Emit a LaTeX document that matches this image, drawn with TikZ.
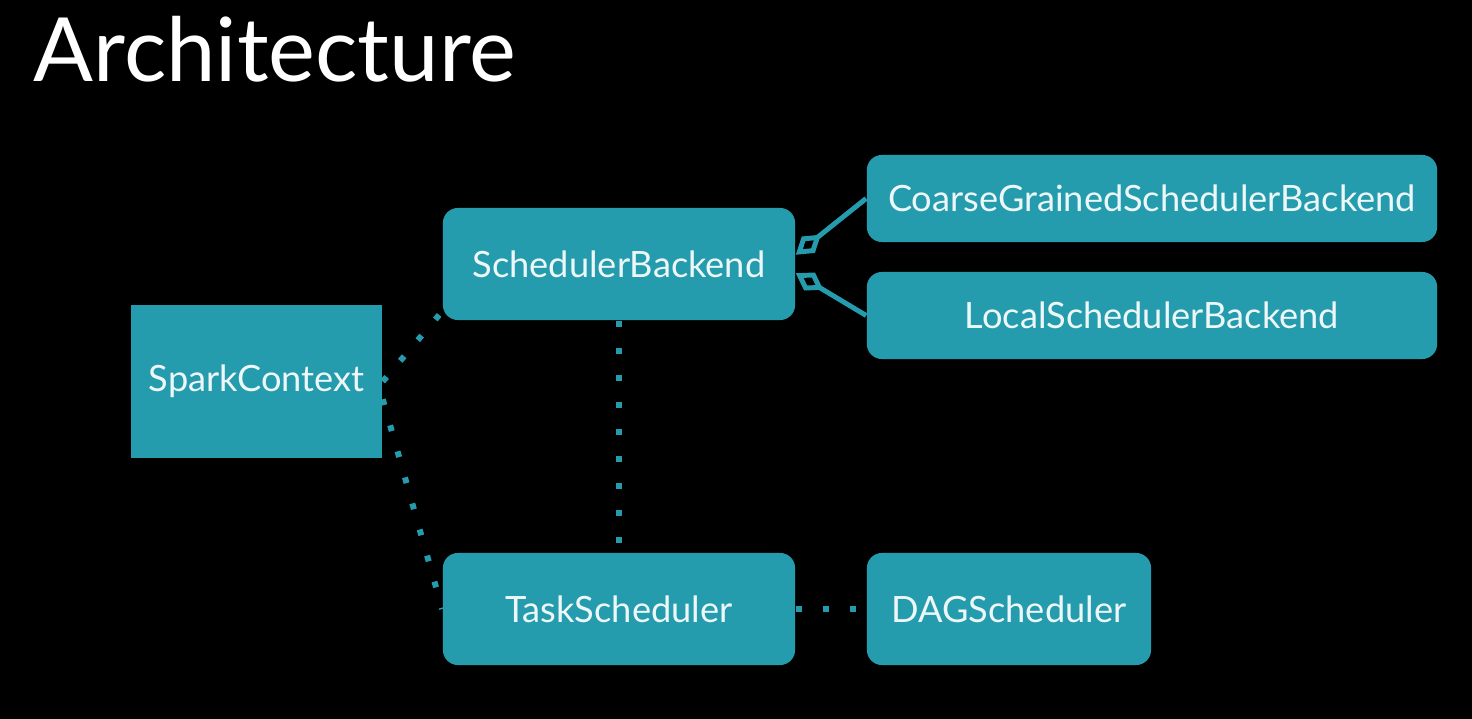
\documentclass[tikz,border=0pt]{standalone}
\usepackage{fontspec}
\setmainfont{Lato}
\usepackage{xcolor}
\usepackage{tikz}
\usetikzlibrary{arrows.meta,positioning,calc}

\definecolor{boxteal}{HTML}{259CAE}
\definecolor{boxtext}{HTML}{EEF7F8}

\begin{document}
\begin{tikzpicture}[x=0.01cm,y=-0.01cm,
    box/.style={fill=boxteal,text=boxtext,inner sep=0pt,rounded corners=0.15cm,
      font=\fontsize{10.3}{12}\selectfont},
    dots/.style={draw=boxteal,line width=1.7pt,dash pattern=on 1.7pt off 6pt},
    inherit/.style={draw=boxteal,line width=1.4pt,
      -{Diamond[open,length=0.32cm,width=0.21cm]}}]
  \fill[black] (0,0) rectangle (1472,719);
  \useasboundingbox (0,0) rectangle (1472,719);

  \node [anchor=base west,inner sep=0pt,text=white,
         font=\fontsize{25.2}{29}\selectfont] (title) at (33,82) {Architecture};

  \node [box,rounded corners=0pt,minimum width=2.51cm,minimum height=1.53cm] (sc) at (256.5,381.5) {SparkContext};
  \node [box,minimum width=3.52cm,minimum height=1.12cm] (sb)  at (619,264)    {SchedulerBackend};
  \node [box,minimum width=3.52cm,minimum height=1.12cm] (ts)  at (619,609)    {TaskScheduler};
  \node [box,minimum width=2.84cm,minimum height=1.12cm] (dag) at (1009,609)   {DAGScheduler};
  \node [box,minimum width=5.70cm,minimum height=0.87cm] (cg)  at (1152,198.5) {CoarseGrainedSchedulerBackend};
  \node [box,minimum width=5.70cm,minimum height=0.87cm] (lsb) at (1152,315.5) {LocalSchedulerBackend};

  \draw [dots] (sc.east) -- (sb.195);
  \draw [dots] (sc.-8) -- (ts.west);
  \draw [dots] (sb.south) -- (ts.north);
  \draw [dots] (ts.east) -- (dag.west);

  \draw [inherit] (cg.west) -- (sb.3);
  \draw [inherit] (lsb.west) -- (sb.-3);
\end{tikzpicture}
\end{document}
